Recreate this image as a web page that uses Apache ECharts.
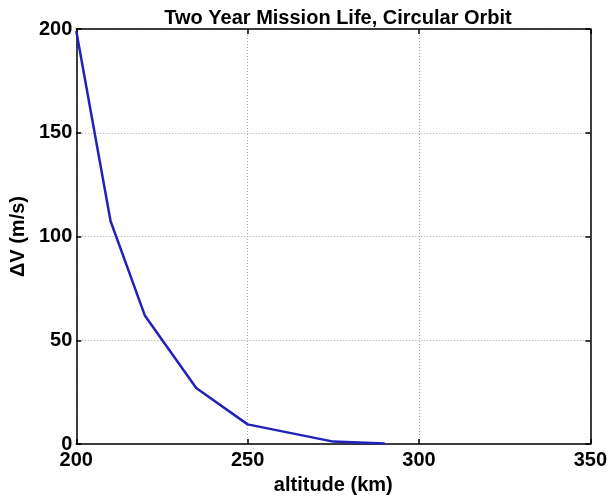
<!DOCTYPE html>
<html>
<head>
<meta charset="utf-8">
<script src="https://cdn.jsdelivr.net/npm/echarts@6/dist/echarts.min.js"></script>
<style>
html,body{margin:0;padding:0;background:#fff;}
#chart{width:610px;height:500px;}
</style>
</head>
<body>
<div id="chart"></div>
<script>
var titleText = 'Two Year Mission Life, Circular Orbit';
var xName = 'altitude (km)';
var yName = '\u0394V (m/s)';
var altitude = [200, 210, 220, 235, 250, 275, 290];
var deltaV = [199, 107.5, 62, 27, 9.5, 1.2, 0.3];

var chart = echarts.init(document.getElementById('chart'), null, {renderer: 'canvas'});
var font = 'Liberation Sans, Arial, Helvetica, sans-serif';
var axisLine = {show: true, onZero: false, lineStyle: {color: '#000', width: 1.5}};
var tick = {show: true, inside: true, length: 5, lineStyle: {color: '#000', width: 1.5}};
var split = {show: true, lineStyle: {color: '#aaa', type: [1, 2], width: 1}};

chart.setOption({
  animation: false,
  backgroundColor: '#fff',
  title: {
    text: titleText,
    left: 333,
    top: 3,
    textAlign: 'center',
    textStyle: {fontFamily: font, fontWeight: 'bold', fontSize: 20, color: '#000'}
  },
  grid: {left: 75, right: 19, top: 29, bottom: 55, containLabel: false},
  xAxis: [{
    type: 'value', min: 200, max: 350, interval: 50, position: 'bottom',
    name: xName, nameLocation: 'middle', nameGap: 29,
    nameTextStyle: {fontFamily: font, fontWeight: 'bold', fontSize: 20, color: '#000'},
    axisLine: axisLine, axisTick: tick, splitLine: split,
    axisLabel: {fontFamily: font, fontWeight: 'bold', fontSize: 20, color: '#000', margin: 6}
  }, {
    type: 'value', min: 200, max: 350, interval: 50, position: 'top',
    axisLine: axisLine, axisTick: tick, splitLine: {show: false}, axisLabel: {show: false}
  }],
  yAxis: [{
    type: 'value', min: 0, max: 200, interval: 50, position: 'left',
    name: yName, nameLocation: 'middle', nameGap: 46,
    nameTextStyle: {fontFamily: font, fontWeight: 'bold', fontSize: 20, color: '#000'},
    axisLine: axisLine, axisTick: tick, splitLine: split,
    axisLabel: {fontFamily: font, fontWeight: 'bold', fontSize: 20, color: '#000', margin: 4}
  }, {
    type: 'value', min: 0, max: 200, interval: 50, position: 'right',
    axisLine: axisLine, axisTick: tick, splitLine: {show: false}, axisLabel: {show: false}
  }],
  series: [{
    type: 'line',
    xAxisIndex: 0, yAxisIndex: 0,
    data: altitude.map(function (a, i) { return [a, deltaV[i]]; }),
    showSymbol: false,
    lineStyle: {color: '#2222bb', width: 2.5},
    itemStyle: {color: '#2222bb'}
  }]
});
</script>
</body>
</html>
